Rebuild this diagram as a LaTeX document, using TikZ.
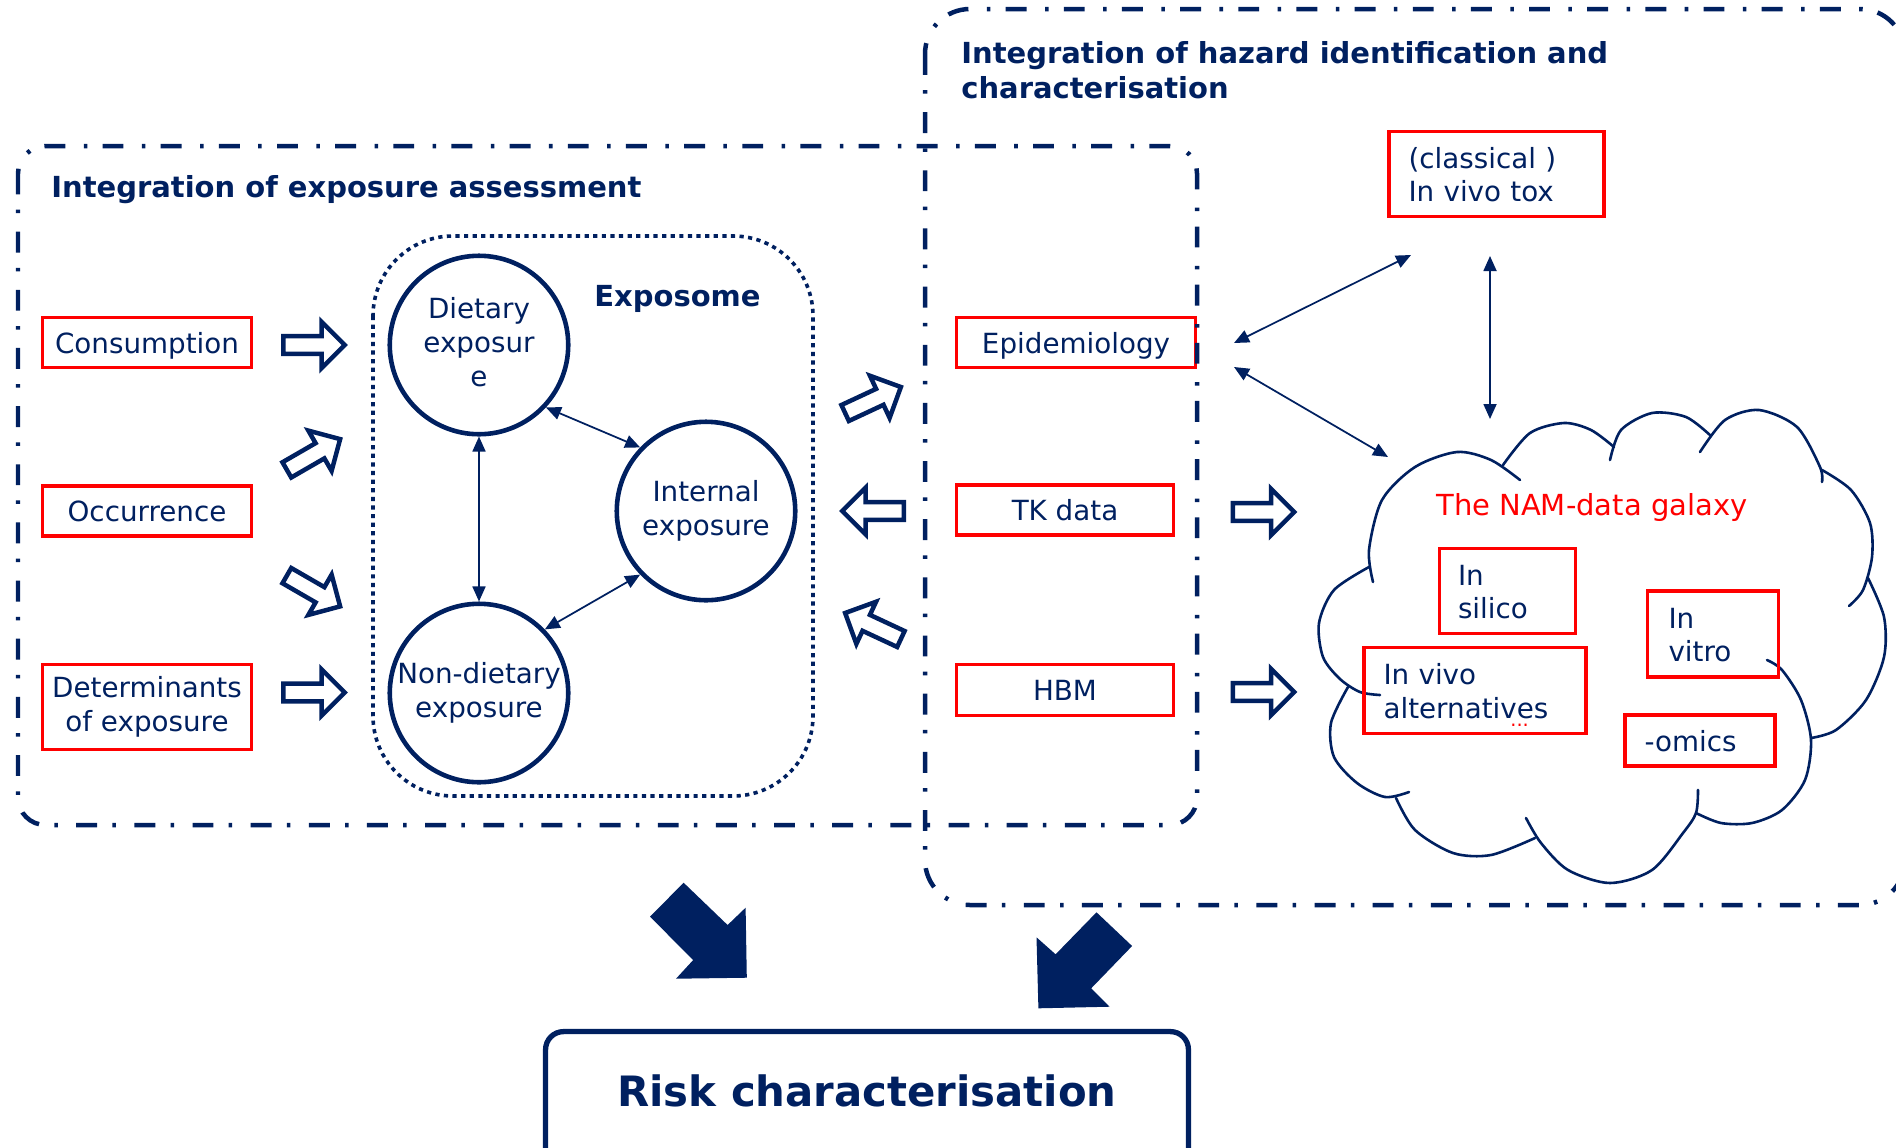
\documentclass[tikz,border=0pt]{standalone}
\usepackage{fontspec}
\setmainfont{DejaVu Sans}
\usetikzlibrary{arrows.meta}
\definecolor{navy}{RGB}{0,32,96}
\definecolor{myred}{RGB}{255,0,0}
\newcommand\mystrutx{\vrule width 0pt height 1.0em depth 0.21em\relax}
\tikzset{
  txt/.style={font=\fontsize{15.8pt}{19.3pt}\selectfont, text=navy, execute at begin node=\mystrutx, execute at end node=\mystrutx},
  redbox/.style={txt, draw=myred, line width=0.068cm, inner sep=0pt, align=center},
  lbox/.style={redbox, align=left, inner ysep=0pt},
  circ/.style={txt, circle, draw=navy, line width=0.092cm, minimum size=3.57cm, inner sep=0pt, align=center},
  thinarrow/.style={draw=navy, line width=0.035cm, {Triangle[length=0.3cm,width=0.26cm]}-{Triangle[length=0.3cm,width=0.26cm]}},
  dashframe/.style={draw=navy, line width=0.09cm, dash pattern=on 11.9pt off 8.7pt on 2pt off 10.5pt},
  dotframe/.style={draw=navy, line width=0.072cm, dash pattern=on 2.4pt off 2.5pt},
  cloudline/.style={draw=navy, line width=0.052cm, line cap=round},
  titlefont/.style={font=\bfseries\fontsize{16.5pt}{19.8pt}\selectfont, text=navy, inner sep=0pt},
  harrow/.pic={\draw[navy, line width=0.09cm, fill=white, miter limit=10]
     (-30.75,-8.8) -- (7.5,-8.8) -- (7.5,-23.25) -- (30.75,0) -- (7.5,23.25) -- (7.5,8.8) -- (-30.75,8.8) -- cycle;},
}
\begin{document}
\begin{tikzpicture}[x=0.02cm,y=-0.02cm]
\useasboundingbox (0,0) rectangle (1896,1147);

% ---------- cloud ----------
\draw[cloudline] plot[smooth] coordinates {(1373,582) (1369,550) (1382,500) (1415,467) (1457,452) (1491,460) (1520,480)};
\draw[cloudline] plot[smooth] coordinates {(1503,465) (1530,433) (1564,423) (1591,430) (1614,447)};
\draw[cloudline] plot[smooth] coordinates {(1610,460) (1621,430) (1652,413) (1686,417) (1711,436)};
\draw[cloudline] plot[smooth] coordinates {(1700,452) (1725,420) (1759,410) (1797,427) (1820,467) (1822,482)};
\draw[cloudline] plot[smooth] coordinates {(1822,470) (1851,490) (1870,523) (1872,557) (1863,590) (1849,606)};
\draw[cloudline] plot[smooth] coordinates {(1868,578) (1884,617) (1884,657) (1866,700) (1836,730) (1811,738)};
\draw[cloudline] plot[smooth] coordinates {(1767,660) (1782,670) (1801,700) (1811,740) (1805,780) (1782,810) (1752,823) (1721,823) (1696,813)};
\draw[cloudline] plot[smooth] coordinates {(1698,790) (1696,813) (1683,833) (1652,870) (1610,883) (1568,870) (1541,843) (1526,818)};
\draw[cloudline] plot[smooth] coordinates {(1535,838) (1491,855) (1453,853) (1415,830) (1396,798)};
\draw[cloudline] plot[smooth] coordinates {(1348,687) (1331,723) (1334,757) (1357,783) (1385,797) (1409,792)};
\draw[cloudline] plot[smooth] coordinates {(1380,695) (1360,692) (1340,679) (1323,657) (1319,623) (1334,590) (1369,567)};

% ---------- left boxes ----------
\node[redbox, minimum width=4.18cm, minimum height=1.0cm] (cons) at (147,342.5) {Consumption};
\node[redbox, minimum width=4.18cm, minimum height=1.0cm] (occ) at (147,511) {Occurrence};
\node[redbox, minimum width=4.18cm, minimum height=1.70cm] (det) at (147,707) {Determinants\\of exposure};

% ---------- exposome ----------
\draw[dotframe, rounded corners=1.6cm] (373,236) rectangle (813,796);
\node[titlefont, anchor=base west] (expo) at (594,306) {Exposome};
\node[circ] (diet) at (479,345) {Dietary\\exposur\\e};
\node[circ] (int) at (706,511) {Internal\\exposure};
\node[circ] (nondiet) at (479,693) {Non-dietary\\exposure};
\draw[thinarrow] (diet.-43) -- (int.136);
\draw[thinarrow] (int.224) -- (nondiet.44);
\draw[thinarrow] (diet.south) -- (nondiet.north);

% ---------- hollow arrows ----------
\pic at (314,345) {harrow};
\pic[rotate=30] at (313.5,454.5) {harrow};
\pic[rotate=-30] at (313.5,591) {harrow};
\pic at (314,692.5) {harrow};
\pic[rotate=25] at (873,400) {harrow};
\pic[rotate=180] at (873,511) {harrow};
\pic[rotate=155] at (873,626) {harrow};
\pic at (1263.5,512) {harrow};
\pic at (1263.5,692) {harrow};

% ---------- hazard boxes ----------
\node[redbox, minimum width=4.78cm, minimum height=1.0cm] (epi) at (1076,342.5) {Epidemiology};
\node[redbox, minimum width=4.34cm, minimum height=1.0cm] (tk) at (1065,510) {TK data};
\node[redbox, minimum width=4.34cm, minimum height=1.02cm] (hbm) at (1065,690) {HBM};
\node[lbox, minimum height=1.70cm, text width=3.52cm, inner xsep=0.39cm] (cls) at (1496.5,174) {(classical )\\In vivo tox};

% ---------- NAM galaxy ----------
\node[font=\fontsize{16.5pt}{19.8pt}\selectfont, text=myred, anchor=base west, inner sep=0pt] (nam) at (1436,515) {The NAM-data galaxy};
\node[lbox, minimum height=1.70cm, text width=1.98cm, inner xsep=0.37cm] (silico) at (1507.5,591) {In\\silico};
\node[lbox, minimum height=1.72cm, text width=1.78cm, inner xsep=0.42cm] (vitro) at (1713,634) {In\\vitro};
\node[lbox, minimum height=1.72cm, text width=3.66cm, inner xsep=0.39cm] (vivo) at (1475,690.5)
  {In vivo\\alternatives\llap{\smash{\raisebox{-0.16cm}{\textcolor{myred}{\fontsize{11pt}{12pt}\selectfont ...}}}\hspace{0.39cm}}};
\node[lbox, minimum height=1.02cm, text width=2.22cm, inner xsep=0.39cm] (omics) at (1700,740.5) {-omics};

% ---------- thin arrows ----------
\coordinate (t1a) at (1234,343);
\coordinate (t1b) at (1411,255);
\coordinate (t2a) at (1234,367);
\coordinate (t2b) at (1388,457);
\coordinate (t3a) at (1490,256);
\coordinate (t3b) at (1490,419);
\draw[thinarrow] (t1a) -- (t1b);
\draw[thinarrow] (t2a) -- (t2b);
\draw[thinarrow] (t3a) -- (t3b);

% ---------- frames ----------
\draw[dashframe, rounded corners=0.55cm] (18,146) rectangle (1197,825);
\draw[dashframe, rounded corners=0.9cm] (925,9) rectangle (1905,905);
\node[titlefont, anchor=base west] (ttl1) at (51,197) {Integration of exposure assessment};
\node[titlefont, anchor=north west, align=left] (ttl2) at (961,41) {Integration of hazard identification and\\characterisation};

% ---------- risk ----------
\fill[navy] (683.6,882.7) -- (727.6,925) -- (745.6,907.7) -- (746.8,977.7) -- (676,978.7) -- (693.2,960) -- (650,916.7) -- cycle;
\fill[navy] (1096.5,912.3) -- (1132.1,946) -- (1091.2,988.3) -- (1109.6,1006.7) -- (1038.4,1008.3) -- (1036.5,937.3) -- (1055.6,954.3) -- cycle;
\node[draw=navy, line width=0.106cm, rounded corners=0.36cm, minimum width=12.86cm, minimum height=2.97cm, inner sep=0pt] (riskbox) at (867,1105.8) {};
\node[font=\bfseries\fontsize{23.8pt}{28pt}\selectfont, text=navy, anchor=base, inner sep=0pt] (risk) at (867,1106) {Risk characterisation};
\end{tikzpicture}
\end{document}
